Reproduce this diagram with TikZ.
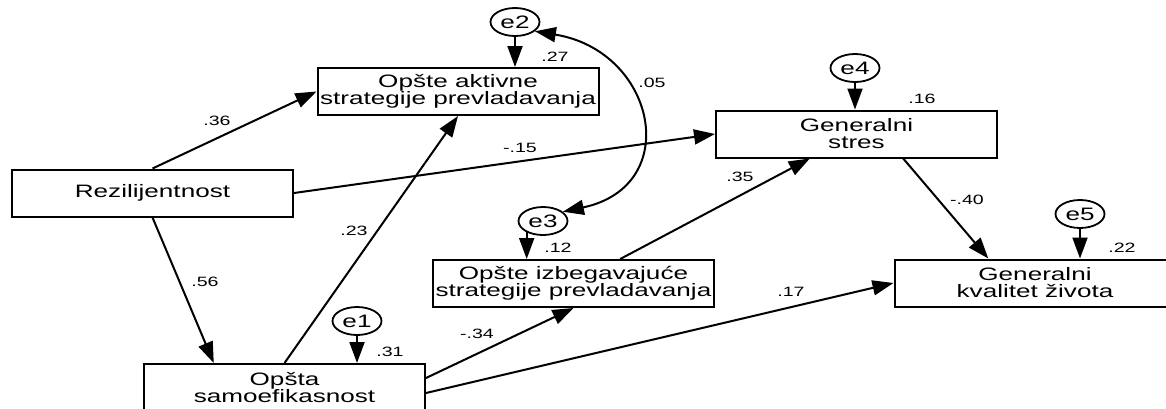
\documentclass[tikz,border=0pt]{standalone}
\usepackage{fontspec}
\setmainfont{Liberation Sans}[FakeStretch=1.45]
\usetikzlibrary{arrows.meta,shapes.geometric,calc}
\begin{document}
\begin{tikzpicture}[x=1pt,y=-1pt,
  var/.style={draw,line width=2pt,minimum width=281pt,minimum height=47pt,
    inner sep=0pt,align=center,font=\fontsize{18}{17}\selectfont},
  err/.style={draw,ellipse,line width=1.8pt,minimum width=49pt,minimum height=28pt,
    inner sep=0pt,font=\fontsize{18}{17}\selectfont},
  link/.style={line width=2pt,-{Triangle[length=21pt,width=15pt]}},
  coef/.style={font=\fontsize{13.5}{13.5}\selectfont,inner sep=0pt}
]
\clip (0,0) rectangle (1166,408);
\useasboundingbox (0,0) rectangle (1166,408);

% observed variables
\node[var] (rez) at (152.5,193)  {Rezilijentnost};
\node[var] (akt) at (458,91.5)   {Opšte aktivne\\strategije prevladavanja};
\node[var] (str) at (856.5,134)  {Generalni\\stres};
\node[var] (izb) at (573.5,283.5){Opšte izbegavajuće\\strategije prevladavanja};
\node[var] (sam) at (284.5,387.5){Opšta\\samoefikasnost};
\node[var] (kva) at (1035,283)   {Generalni\\kvalitet života};

% error terms
\node[err] (e1) at (357,321) {e1};
\node[err] (e2) at (515,22)  {e2};
\node[err] (e3) at (543,221) {e3};
\node[err] (e4) at (855,68)  {e4};
\node[err] (e5) at (1080,214){e5};

% structural paths
\draw[link] (rez.north) -- (akt.west);
\draw[link] (rez.east) -- (str.west);
\draw[link] (rez.south) -- ($(sam.north)!0.5!(sam.north west)$);
\draw[link] (sam.north) -- (akt.south);
\draw[link] ([yshift=9.5pt]sam.east) -- (izb.south);
\draw[link] ([yshift=-5.5pt]sam.east) -- (kva.west);
\draw[link] ($(izb.north)!0.33!(izb.north east)$) -- ($(str.south)!0.33!(str.south west)$);
\draw[link] ($(str.south)!0.33!(str.south east)$) -- ($(kva.north)!0.33!(kva.north west)$);

% error paths
\draw[link] (e1) -- (e1 |- sam.north);
\draw[link] (e2) -- (e2 |- akt.north);
\draw[link] (e3.215) -- (e3.215 |- izb.north);
\draw[link] (e4) -- (e4 |- str.north);
\draw[link] (e5) -- (e5 |- kva.north);

% covariance between e2 and e3
\draw[line width=2pt,{Triangle[length=21pt,width=15pt]}-{Triangle[length=21pt,width=15pt]}]
  (e2.-25) .. controls (656,51) and (684,186) .. (e3.25);

% coefficients
\node[coef] (c36) at (217,121) {.36};
\node[coef] (c15) at (520,148) {-.15};
\node[coef] (c56) at (205,282) {.56};
\node[coef] (c23) at (354,231) {.23};
\node[coef] (c27) at (555,57)  {.27};
\node[coef] (c05) at (652,83)  {.05};
\node[coef] (c16) at (922,99)  {.16};
\node[coef] (c35) at (740,177) {.35};
\node[coef] (c12) at (558,248) {.12};
\node[coef] (c31) at (390,352) {.31};
\node[coef] (c40) at (967,200) {-.40};
\node[coef] (c22) at (1122,248){.22};
\node[coef] (c34) at (477,334) {-.34};
\node[coef] (c17) at (791,292) {.17};
\end{tikzpicture}
\end{document}
